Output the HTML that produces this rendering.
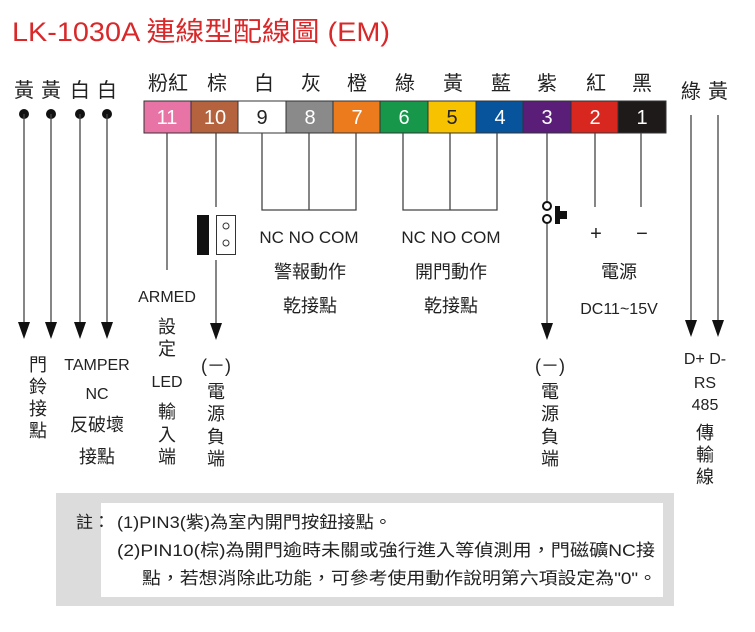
<!DOCTYPE html>
<html><head><meta charset="utf-8"><style>
body{margin:0;background:#fff;}
svg text{font-family:"Liberation Sans","Noto Sans CJK TC",sans-serif;fill:#222;}
</style></head><body>
<svg width="755" height="627" viewBox="0 0 755 627" xmlns="http://www.w3.org/2000/svg">
<text x="12" y="41" font-size="27" textLength="378" lengthAdjust="spacingAndGlyphs" style="fill:#d8282a">LK-1030A 連線型配線圖 (EM)</text>
<g font-size="20" text-anchor="middle">
<text x="24" y="97">黃</text><text x="51" y="97">黃</text><text x="80" y="97">白</text><text x="107" y="97">白</text>
<text x="168" y="90">粉紅</text><text x="217" y="90">棕</text><text x="264" y="90">白</text><text x="311" y="90">灰</text><text x="357" y="90">橙</text>
<text x="405" y="90">綠</text><text x="453" y="90">黃</text><text x="501" y="90">藍</text><text x="547" y="90">紫</text><text x="596" y="90">紅</text><text x="642" y="90">黑</text>
<text x="691" y="98">綠</text><text x="718" y="98">黃</text>
</g>
<g stroke="#333" stroke-width="1">
<rect x="144" y="101" width="47" height="32" fill="#e874a6"/>
<rect x="191" y="101" width="47" height="32" fill="#b5623e"/>
<rect x="238" y="101" width="48" height="32" fill="#fff"/>
<rect x="286" y="101" width="47" height="32" fill="#8a8a8a"/>
<rect x="333" y="101" width="47" height="32" fill="#ec7b1d"/>
<rect x="380" y="101" width="48" height="32" fill="#16974a"/>
<rect x="428" y="101" width="48" height="32" fill="#f7c300"/>
<rect x="476" y="101" width="47" height="32" fill="#07549c"/>
<rect x="523" y="101" width="48" height="32" fill="#5a1e79"/>
<rect x="571" y="101" width="47" height="32" fill="#d8271f"/>
<rect x="618" y="101" width="48" height="32" fill="#1e1a1a"/>
</g>
<g font-size="20" text-anchor="middle">
<text x="167" y="124" style="fill:#fff">11</text><text x="215" y="124" style="fill:#fff">10</text><text x="262" y="124">9</text><text x="310" y="124" style="fill:#fff">8</text><text x="357" y="124" style="fill:#fff">7</text>
<text x="404" y="124" style="fill:#fff">6</text><text x="452" y="124">5</text><text x="500" y="124" style="fill:#fff">4</text><text x="547" y="124" style="fill:#fff">3</text><text x="595" y="124" style="fill:#fff">2</text><text x="642" y="124" style="fill:#fff">1</text>
</g>
<g fill="#111">
<circle cx="24" cy="114" r="5"/><circle cx="51" cy="114" r="5"/><circle cx="80" cy="114" r="5"/><circle cx="107" cy="114" r="5"/>
</g>
<g stroke="#444" stroke-width="1.3" fill="none">
<path d="M24 114V325M51 114V325M80 114V325M107 114V325"/>
<path d="M167 133V270"/>
<path d="M216 133V207M216 260V325"/>
<path d="M262 133V210H356V133M309 133V210"/>
<path d="M403 133V210H497V133M450 133V210"/>
<path d="M547 133V202M547 223V325"/>
<path d="M595 133V207M641 133V207"/>
<path d="M691 115V322M718 115V322"/>
</g>
<g fill="#111">
<path d="M18 322h12l-6 17z"/><path d="M45 322h12l-6 17z"/><path d="M74 322h12l-6 17z"/><path d="M101 322h12l-6 17z"/>
<path d="M210 323h12l-6 17z"/><path d="M541 323h12l-6 17z"/>
<path d="M685 320h12l-6 17z"/><path d="M712 320h12l-6 17z"/>
<rect x="197" y="215" width="12" height="40"/>
<path d="M555 206h5v5h7v8h-7v5h-5z"/>
</g>
<rect x="216.5" y="215.5" width="19" height="39" fill="#fff" stroke="#333"/>
<circle cx="226" cy="226" r="3" fill="none" stroke="#333"/><circle cx="226" cy="243" r="3" fill="none" stroke="#333"/>
<circle cx="547" cy="206" r="4" fill="#fff" stroke="#111" stroke-width="2"/><circle cx="547" cy="219" r="4" fill="#fff" stroke="#111" stroke-width="2"/>
<g font-size="18" text-anchor="middle">
<text x="309" y="243" font-size="17">NC NO COM</text><text x="451" y="243" font-size="17">NC NO COM</text>
<text x="310" y="278">警報動作</text><text x="310" y="312">乾接點</text>
<text x="451" y="278">開門動作</text><text x="451" y="312">乾接點</text>
<text x="596" y="240" font-size="20">+</text><text x="642" y="240" font-size="20">−</text>
<text x="619" y="278">電源</text><text x="619" y="314" font-size="16">DC11~15V</text>
<text x="167" y="302" font-size="16">ARMED</text>
<text x="167" y="333">設</text><text x="167" y="355">定</text>
<text x="167" y="387" font-size="16">LED</text>
<text x="167" y="418">輸</text><text x="167" y="441">入</text><text x="167" y="463">端</text>
<text x="216" y="372">(－)</text>
<text x="216" y="398">電</text><text x="216" y="420">源</text><text x="216" y="443">負</text><text x="216" y="465">端</text>
<text x="550" y="372">(－)</text>
<text x="550" y="398">電</text><text x="550" y="420">源</text><text x="550" y="443">負</text><text x="550" y="465">端</text>
<text x="38" y="371">門</text><text x="38" y="393">鈴</text><text x="38" y="415">接</text><text x="38" y="437">點</text>
<text x="97" y="370" font-size="16">TAMPER</text><text x="97" y="399" font-size="16">NC</text>
<text x="97" y="431">反破壞</text><text x="97" y="463">接點</text>
<text x="705" y="364" font-size="16">D+ D-</text><text x="705" y="388" font-size="16">RS</text><text x="705" y="410" font-size="16">485</text>
<text x="705" y="439">傳</text><text x="705" y="461">輸</text><text x="705" y="483">線</text>
</g>
<rect x="56" y="493" width="618" height="113" fill="#dcdcdc"/>
<rect x="101" y="503" width="562" height="94" fill="#fff"/>
<g font-size="17" style="fill:#222">
<text x="76" y="528">註：</text>
<text x="117" y="528" textLength="275" lengthAdjust="spacingAndGlyphs">(1)PIN3(紫)為室內開門按鈕接點。</text>
<text x="117" y="556" textLength="538" lengthAdjust="spacingAndGlyphs">(2)PIN10(棕)為開門逾時未關或強行進入等偵測用，門磁礦NC接</text>
<text x="142" y="584" textLength="515" lengthAdjust="spacingAndGlyphs">點，若想消除此功能，可參考使用動作說明第六項設定為"0"。</text>
</g>
</svg>
</body></html>
